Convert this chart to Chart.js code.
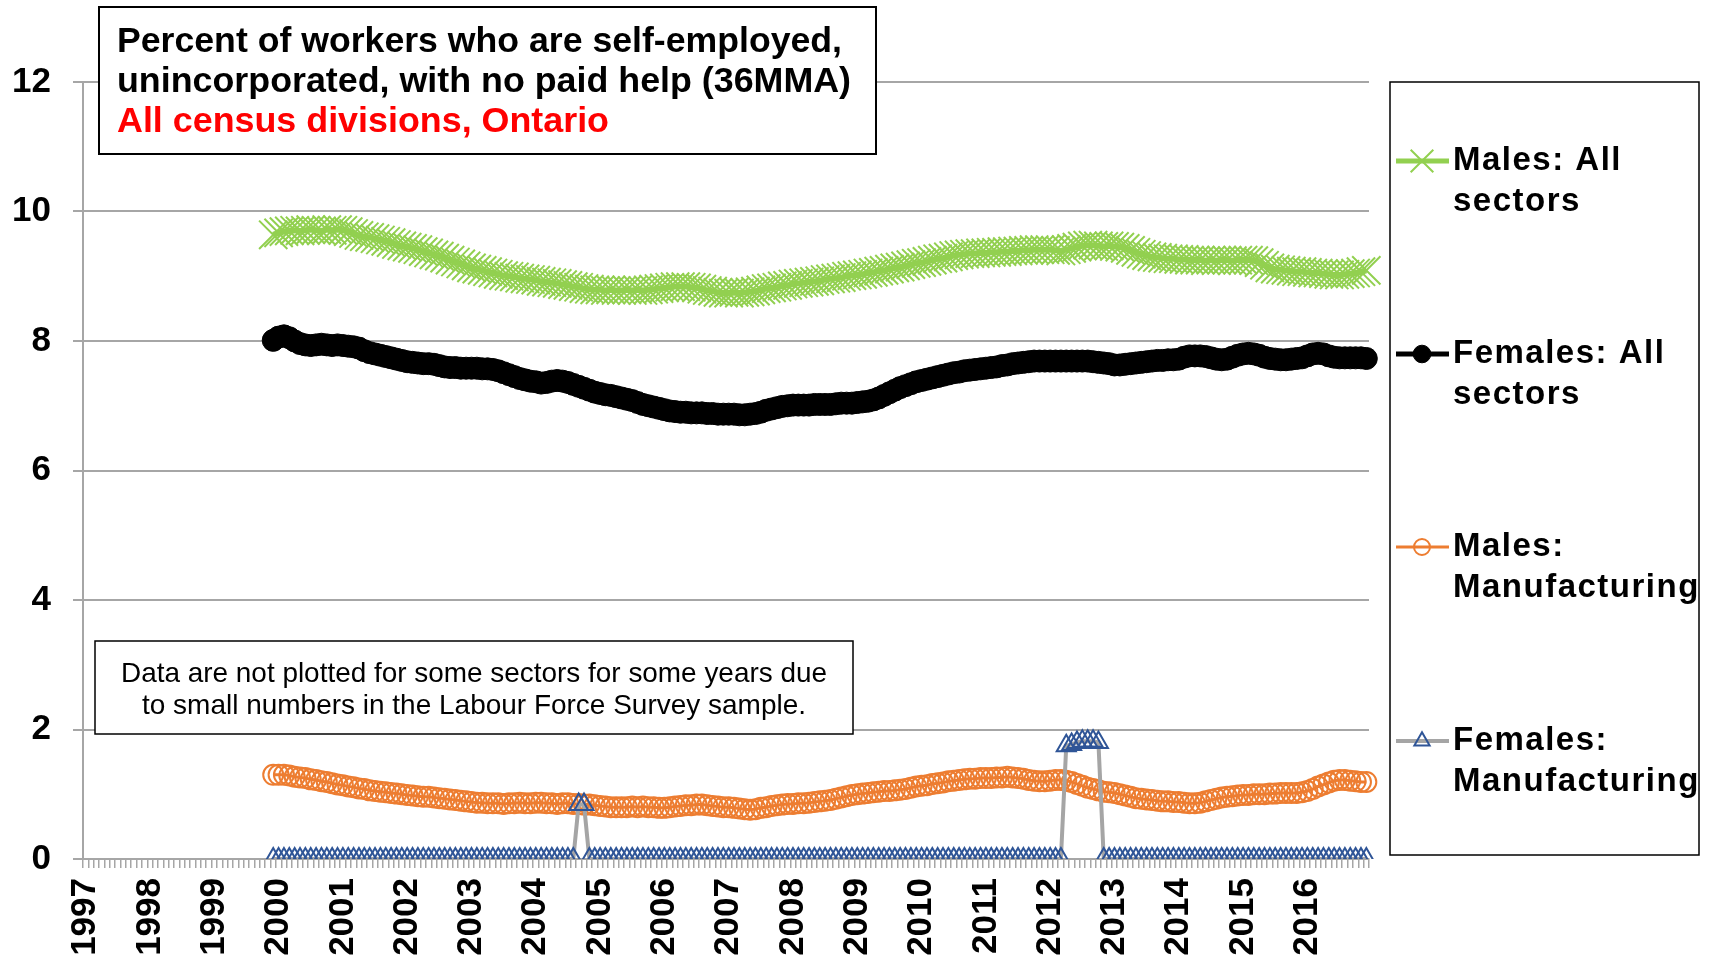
<!DOCTYPE html>
<html>
<head>
<meta charset="utf-8">
<title>Self-employed, unincorporated, no paid help - Ontario</title>
<script src="https://cdn.jsdelivr.net/npm/chart.js@4/dist/chart.umd.min.js"></script>
<style>
  html, body { margin: 0; padding: 0; background: #fff; }
  #wrap { width: 1713px; height: 961px; position: relative; }
</style>
</head>
<body>
<div id="wrap"><canvas id="chart" width="1713" height="961"></canvas></div>
<script>
// ============================================
// DATA  (36-month moving averages, % of workers)
// ============================================
const years = [1997, 1998, 1999, 2000, 2001, 2002, 2003, 2004, 2005, 2006,
               2007, 2008, 2009, 2010, 2011, 2012, 2013, 2014, 2015, 2016];
const firstMonth = '1999-12';   // first month with a 36MMA value
const yTicks = [0, 2, 4, 6, 8, 10, 12];

// Males: All sectors  (1999-12, then Jan..Dec per row 2000-2016)
const malesAll = [
  9.64,
  9.67, 9.69, 9.70, 9.71, 9.70, 9.71, 9.72, 9.71, 9.70, 9.72, 9.71, 9.72,
  9.71, 9.69, 9.66, 9.63, 9.61, 9.60, 9.58, 9.56, 9.54, 9.52, 9.49, 9.47,
  9.45, 9.43, 9.41, 9.38, 9.36, 9.33, 9.31, 9.28, 9.25, 9.22, 9.19, 9.16,
  9.13, 9.11, 9.09, 9.07, 9.05, 9.03, 9.01, 9.00, 8.99, 8.97, 8.96, 8.95,
  8.94, 8.92, 8.91, 8.90, 8.89, 8.87, 8.86, 8.84, 8.83, 8.81, 8.80, 8.79,
  8.79, 8.78, 8.79, 8.78, 8.78, 8.79, 8.78, 8.79, 8.78, 8.79, 8.80, 8.81,
  8.82, 8.83, 8.84, 8.84, 8.84, 8.83, 8.82, 8.80, 8.78, 8.77, 8.75, 8.74,
  8.74, 8.75, 8.74, 8.75, 8.76, 8.77, 8.79, 8.81, 8.82, 8.83, 8.85, 8.86,
  8.88, 8.89, 8.90, 8.91, 8.92, 8.93, 8.95, 8.96, 8.97, 8.98, 9.00, 9.01,
  9.02, 9.03, 9.05, 9.06, 9.08, 9.09, 9.11, 9.13, 9.14, 9.16, 9.18, 9.20,
  9.21, 9.23, 9.25, 9.27, 9.28, 9.30, 9.32, 9.33, 9.34, 9.35, 9.35, 9.36,
  9.36, 9.37, 9.37, 9.38, 9.38, 9.39, 9.39, 9.40, 9.40, 9.41, 9.41, 9.41,
  9.41, 9.40, 9.39, 9.41, 9.43, 9.45, 9.47, 9.48, 9.48, 9.47, 9.46, 9.47,
  9.46, 9.45, 9.43, 9.40, 9.37, 9.34, 9.32, 9.30, 9.29, 9.28, 9.27, 9.27,
  9.26, 9.26, 9.25, 9.25, 9.25, 9.24, 9.25, 9.24, 9.25, 9.25, 9.24, 9.25,
  9.25, 9.25, 9.24, 9.21, 9.17, 9.13, 9.11, 9.10, 9.09, 9.08, 9.07, 9.07,
  9.06, 9.05, 9.05, 9.04, 9.03, 9.02, 9.02, 9.03, 9.04, 9.05, 9.07, 9.09
];

// Females: All sectors
const femalesAll = [
  8.01,
  8.06, 8.08, 8.05, 8.00, 7.96, 7.94, 7.93, 7.94, 7.95, 7.94, 7.93, 7.94,
  7.93, 7.92, 7.91, 7.89, 7.85, 7.82, 7.80, 7.78, 7.76, 7.74, 7.72, 7.70,
  7.68, 7.67, 7.66, 7.65, 7.65, 7.64, 7.62, 7.60, 7.59, 7.59, 7.58, 7.58,
  7.58, 7.58, 7.57, 7.57, 7.56, 7.54, 7.51, 7.48, 7.45, 7.42, 7.40, 7.38,
  7.37, 7.35, 7.36, 7.38, 7.39, 7.38, 7.36, 7.33, 7.30, 7.27, 7.24, 7.21,
  7.19, 7.17, 7.16, 7.14, 7.12, 7.10, 7.08, 7.05, 7.02, 7.00, 6.98, 6.96,
  6.94, 6.92, 6.91, 6.90, 6.90, 6.89, 6.89, 6.89, 6.88, 6.88, 6.87, 6.87,
  6.87, 6.87, 6.86, 6.86, 6.87, 6.88, 6.90, 6.93, 6.95, 6.97, 6.99, 7.00,
  7.01, 7.01, 7.01, 7.01, 7.02, 7.02, 7.02, 7.02, 7.03, 7.04, 7.04, 7.04,
  7.05, 7.06, 7.07, 7.09, 7.12, 7.16, 7.20, 7.24, 7.28, 7.31, 7.34, 7.37,
  7.39, 7.41, 7.43, 7.45, 7.47, 7.49, 7.51, 7.52, 7.54, 7.55, 7.56, 7.57,
  7.58, 7.59, 7.60, 7.62, 7.63, 7.65, 7.66, 7.67, 7.68, 7.69, 7.69, 7.69,
  7.69, 7.69, 7.69, 7.69, 7.69, 7.69, 7.69, 7.69, 7.68, 7.67, 7.66, 7.65,
  7.63, 7.63, 7.64, 7.65, 7.66, 7.67, 7.68, 7.69, 7.70, 7.70, 7.71, 7.71,
  7.72, 7.75, 7.77, 7.77, 7.77, 7.76, 7.74, 7.72, 7.71, 7.72, 7.75, 7.78,
  7.80, 7.81, 7.80, 7.78, 7.75, 7.73, 7.72, 7.71, 7.71, 7.72, 7.73, 7.74,
  7.77, 7.80, 7.81, 7.80, 7.77, 7.75, 7.74, 7.74, 7.74, 7.74, 7.74, 7.73
];

// Males: Manufacturing
const malesMfg = [
  1.30,
  1.30, 1.30, 1.29, 1.27, 1.26, 1.25, 1.23, 1.22, 1.20, 1.19, 1.17, 1.15,
  1.14, 1.12, 1.11, 1.09, 1.08, 1.06, 1.05, 1.04, 1.03, 1.02, 1.01, 1.00,
  0.99, 0.98, 0.97, 0.96, 0.96, 0.95, 0.94, 0.93, 0.92, 0.91, 0.90, 0.89,
  0.88, 0.87, 0.87, 0.86, 0.86, 0.86, 0.85, 0.86, 0.86, 0.87, 0.86, 0.86,
  0.87, 0.87, 0.86, 0.86, 0.85, 0.86, 0.86, 0.85, 0.85, 0.84, 0.84, 0.83,
  0.82, 0.81, 0.80, 0.80, 0.80, 0.80, 0.81, 0.80, 0.81, 0.80, 0.80, 0.79,
  0.79, 0.80, 0.81, 0.82, 0.83, 0.83, 0.84, 0.84, 0.83, 0.82, 0.81, 0.80,
  0.80, 0.79, 0.78, 0.77, 0.76, 0.77, 0.79, 0.80, 0.82, 0.83, 0.84, 0.85,
  0.85, 0.86, 0.86, 0.87, 0.88, 0.89, 0.90, 0.91, 0.93, 0.95, 0.97, 0.99,
  1.00, 1.01, 1.02, 1.03, 1.04, 1.05, 1.05, 1.06, 1.07, 1.08, 1.10, 1.12,
  1.13, 1.14, 1.16, 1.17, 1.18, 1.20, 1.21, 1.22, 1.23, 1.24, 1.24, 1.25,
  1.25, 1.25, 1.26, 1.26, 1.27, 1.26, 1.25, 1.24, 1.22, 1.21, 1.20, 1.20,
  1.21, 1.22, 1.22, 1.21, 1.19, 1.16, 1.13, 1.10, 1.08, 1.06, 1.04, 1.03,
  1.02, 1.00, 0.98, 0.96, 0.94, 0.93, 0.92, 0.91, 0.90, 0.89, 0.89, 0.88,
  0.88, 0.87, 0.86, 0.86, 0.87, 0.89, 0.91, 0.93, 0.95, 0.96, 0.97, 0.98,
  0.99, 0.99, 1.00, 1.00, 1.00, 1.01, 1.01, 1.02, 1.02, 1.02, 1.02, 1.03,
  1.05, 1.08, 1.12, 1.15, 1.18, 1.21, 1.22, 1.22, 1.21, 1.20, 1.19, 1.19
];

// Females: Manufacturing
const femalesMfg = [
  0,
  0, 0, 0, 0, 0, 0, 0, 0, 0, 0, 0, 0,
  0, 0, 0, 0, 0, 0, 0, 0, 0, 0, 0, 0,
  0, 0, 0, 0, 0, 0, 0, 0, 0, 0, 0, 0,
  0, 0, 0, 0, 0, 0, 0, 0, 0, 0, 0, 0,
  0, 0, 0, 0, 0, 0, 0, 0, 0.84, 0.84, 0, 0,
  0, 0, 0, 0, 0, 0, 0, 0, 0, 0, 0, 0,
  0, 0, 0, 0, 0, 0, 0, 0, 0, 0, 0, 0,
  0, 0, 0, 0, 0, 0, 0, 0, 0, 0, 0, 0,
  0, 0, 0, 0, 0, 0, 0, 0, 0, 0, 0, 0,
  0, 0, 0, 0, 0, 0, 0, 0, 0, 0, 0, 0,
  0, 0, 0, 0, 0, 0, 0, 0, 0, 0, 0, 0,
  0, 0, 0, 0, 0, 0, 0, 0, 0, 0, 0, 0,
  0, 0, 0, 1.75, 1.77, 1.80, 1.82, 1.82, 1.82, 1.80, 0, 0,
  0, 0, 0, 0, 0, 0, 0, 0, 0, 0, 0, 0,
  0, 0, 0, 0, 0, 0, 0, 0, 0, 0, 0, 0,
  0, 0, 0, 0, 0, 0, 0, 0, 0, 0, 0, 0,
  0, 0, 0, 0, 0, 0, 0, 0, 0, 0, 0, 0
];

const titleLines = [
  'Percent of workers who are self-employed,',
  'unincorporated, with no paid help (36MMA)'
];
const subtitle = 'All census divisions, Ontario';
const noteLines = [
  'Data are not plotted for some sectors for some years due',
  'to small numbers in the Labour Force Survey sample.'
];
const seriesNames = [
  ['Males: All', 'sectors'],
  ['Females: All', 'sectors'],
  ['Males:', 'Manufacturing'],
  ['Females:', 'Manufacturing']
];

// ============================================
// BUILD CATEGORIES / PADDED SERIES
// ============================================
const months = [];
years.forEach(y => {
  for (let m = 1; m <= 12; m++) months.push(y + '-' + String(m).padStart(2, '0'));
});
const lead = months.indexOf(firstMonth);
const pad = arr => Array(lead).fill(null).concat(arr);

const FONT = '"Liberation Sans", Arial, "DejaVu Sans", sans-serif';
const GRID = '#a6a6a6';

// ============================================
// STYLES per series
// ============================================
const styles = [
  { line: '#92D050', lineWidth: 6, pointStyle: 'crossRot', radius: 20, pBorder: '#92D050', pFill: '#92D050', pWidth: 2 },
  { line: '#000000', lineWidth: 8, pointStyle: 'circle', radius: 11, pBorder: '#000000', pFill: '#000000', pWidth: 1 },
  { line: '#ED7D31', lineWidth: 3, pointStyle: 'circle', radius: 10, pBorder: '#ED7D31', pFill: 'rgba(0,0,0,0)', pWidth: 2 },
  { line: '#A5A5A5', lineWidth: 4, pointStyle: 'triangle', radius: 11, pBorder: '#2F5597', pFill: 'rgba(0,0,0,0)', pWidth: 2 }
];
const seriesData = [malesAll, femalesAll, malesMfg, femalesMfg];

const datasets = seriesData.map((d, i) => ({
  label: seriesNames[i].join(' '),
  data: pad(d),
  borderColor: styles[i].line,
  borderWidth: styles[i].lineWidth,
  pointStyle: styles[i].pointStyle,
  pointRadius: styles[i].radius,
  pointBorderColor: styles[i].pBorder,
  pointBackgroundColor: styles[i].pFill,
  pointBorderWidth: styles[i].pWidth,
  tension: 0,
  fill: false,
  order: 3 - i
}));

// ============================================
// TEXT HELPERS
// ============================================
function fitText(ctx, text, x, y, width, align) {
  const m = ctx.measureText(text).width;
  const s = width / m;
  ctx.save();
  ctx.translate(x, y);
  ctx.scale(s, 1);
  ctx.textAlign = align || 'left';
  ctx.fillText(text, 0, 0);
  ctx.restore();
}

function drawBox(ctx, x1, y1, x2, y2, lw) {
  ctx.fillStyle = '#ffffff';
  ctx.fillRect(x1, y1, x2 - x1, y2 - y1);
  ctx.strokeStyle = '#000000';
  ctx.lineWidth = lw;
  ctx.strokeRect(x1, y1, x2 - x1, y2 - y1);
}

// ============================================
// OVERLAY PLUGIN (title box, note box, legend)
// ============================================
const overlay = {
  id: 'overlay',
  afterDraw(chart) {
    const ctx = chart.ctx;
    ctx.save();
    ctx.textBaseline = 'middle';

    // Title box
    drawBox(ctx, 99, 7, 876, 154, 2);
    ctx.fillStyle = '#000';
    ctx.font = 'bold 35px ' + FONT;
    fitText(ctx, titleLines[0], 117, 42, 725);
    fitText(ctx, titleLines[1], 117, 82, 734);
    ctx.fillStyle = '#ff0000';
    fitText(ctx, subtitle, 117, 122, 492);

    // Note box
    drawBox(ctx, 95, 641, 853, 734, 1.5);
    ctx.fillStyle = '#000';
    ctx.font = '28px ' + FONT;
    fitText(ctx, noteLines[0], 474, 674, 706, 'center');
    fitText(ctx, noteLines[1], 474, 706, 664, 'center');

    // Legend
    ctx.fillStyle = '#fff';
    ctx.fillRect(1390, 82, 309, 773);
    ctx.strokeStyle = '#000';
    ctx.lineWidth = 1.5;
    ctx.strokeRect(1390, 82, 309, 773);

    const rowY = [161, 354, 547, 741];
    seriesNames.forEach((lines, i) => {
      const st = styles[i];
      const y = rowY[i];
      ctx.strokeStyle = st.line;
      ctx.lineWidth = Math.min(st.lineWidth, 5);
      ctx.beginPath();
      ctx.moveTo(1396, y);
      ctx.lineTo(1449, y);
      ctx.stroke();
      ctx.strokeStyle = st.pBorder;
      ctx.fillStyle = st.pFill;
      ctx.lineWidth = st.pWidth;
      Chart.helpers.drawPoint(ctx, {
        pointStyle: st.pointStyle, radius: st.radius * 0.8, borderWidth: st.pWidth, rotation: 0
      }, 1422, y);

      ctx.fillStyle = '#000';
      ctx.font = 'bold 33px ' + FONT;
      ctx.letterSpacing = '1.5px';
      ctx.textAlign = 'left';
      ctx.fillText(lines[0], 1453, y);
      ctx.fillText(lines[1], 1453, y + 41);
      ctx.letterSpacing = '0px';
    });

    ctx.restore();
  }
};

// ============================================
// CHART
// ============================================
new Chart(document.getElementById('chart'), {
  type: 'line',
  data: { labels: months, datasets },
  options: {
    responsive: false,
    animation: false,
    devicePixelRatio: 1,
    layout: { padding: { left: 0, right: 344, top: 82, bottom: 0 } },
    plugins: {
      legend: { display: false },
      tooltip: { enabled: false }
    },
    scales: {
      x: {
        type: 'category',
        offset: true,
        grid: {
          offset: true,
          drawOnChartArea: false,
          drawTicks: true,
          tickLength: 9,
          color: GRID,
          lineWidth: 1.5
        },
        border: { color: GRID, width: 2 },
        ticks: {
          autoSkip: false,
          maxRotation: 90,
          minRotation: 90,
          padding: 10,
          color: '#000',
          font: { family: FONT, size: 35, weight: 'bold' },
          callback: function (val, idx) {
            const lbl = months[idx];
            return lbl.endsWith('-01') ? lbl.slice(0, 4) : '';
          }
        },
        afterFit: s => { s.height = 102; }
      },
      y: {
        min: yTicks[0],
        max: yTicks[yTicks.length - 1],
        afterBuildTicks: s => { s.ticks = yTicks.map(v => ({ value: v })); },
        grid: {
          color: GRID,
          lineWidth: 2,
          drawTicks: true,
          tickLength: 10
        },
        border: { color: GRID, width: 2 },
        ticks: {
          padding: 22,
          color: '#000',
          font: { family: FONT, size: 35, weight: 'bold' }
        },
        afterFit: s => { s.width = 83; }
      }
    }
  },
  plugins: [overlay]
});
</script>
</body>
</html>
